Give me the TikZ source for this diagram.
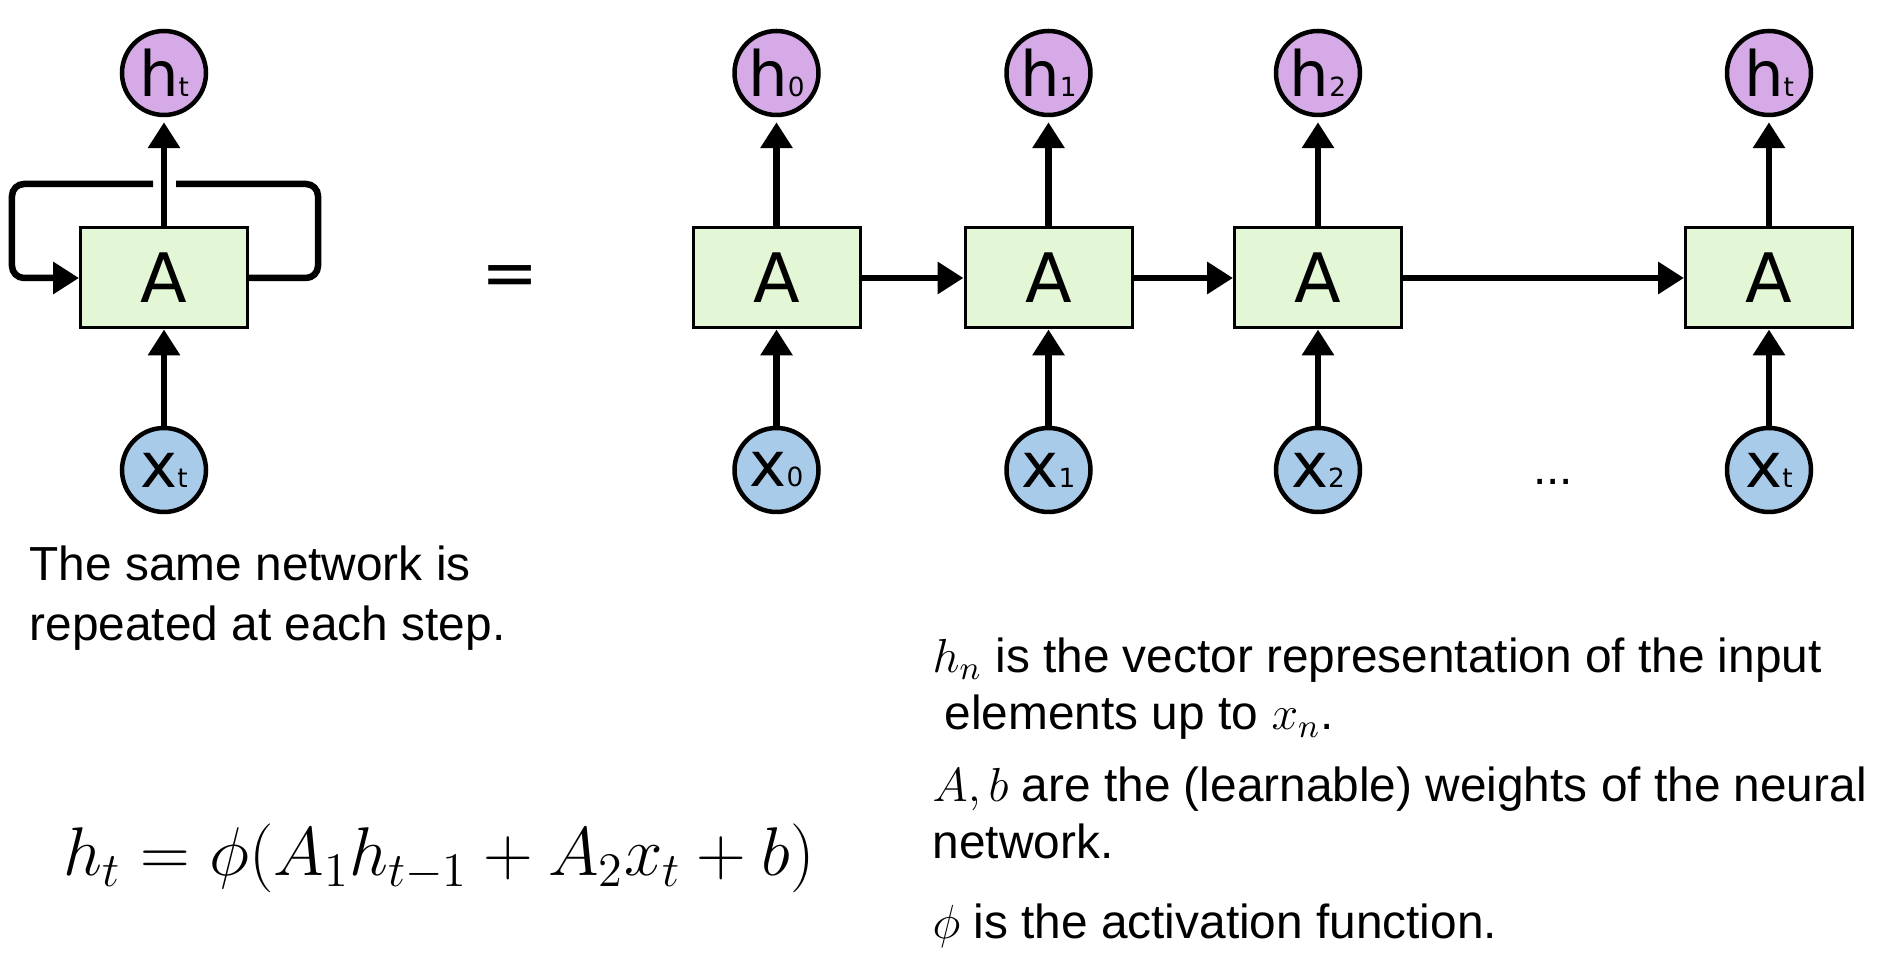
\RequirePackage{fix-cm}
\documentclass[tikz,border=0pt]{standalone}
\usepackage{fontspec}
\setmainfont{Liberation Sans}
\newfontfamily\cellfont{DejaVu Sans}
\usetikzlibrary{arrows.meta,positioning}

\definecolor{hidfill}{RGB}{213,170,230}
\definecolor{infill}{RGB}{168,203,233}
\definecolor{cellfill}{RGB}{227,246,213}

\newcommand{\lowidx}[1]{{\fontsize{7.5}{7.5}\selectfont #1}}

\tikzset{
  cell/.style={draw, line width=0.03cm, fill=cellfill, minimum width=1.67cm,
               minimum height=1.00cm, inner sep=0,
               font=\cellfont\fontsize{19.4}{20}\selectfont},
  hid/.style={circle, draw, line width=0.045cm, fill=hidfill, minimum size=0.84cm,
              inner sep=0, font=\cellfont\fontsize{17.8}{18}\selectfont},
  inp/.style={hid, fill=infill},
  flow/.style={-{Triangle[length=0.26cm,width=0.31cm]}, line width=0.065cm},
  note/.style={anchor=base west, align=left, inner sep=0},
}

\begin{document}
\begin{tikzpicture}
  \useasboundingbox (0,0) rectangle (18.98,-9.62);

  % Folded cell with its recurrent loop
  \node[hid] (hl) at (1.64,-0.73) {h\lowidx{t}};
  \node[cell] (Al) at (1.64,-2.78) {A};
  \node[inp] (xl) at (1.64,-4.70) {x\lowidx{t}};
  \draw[flow] (xl) -- (Al);
  \draw[flow, shorten >=0.05cm] (Al) -- (hl);
  \coordinate (gapR) at (1.76,-1.84);
  \coordinate (gapL) at (1.53,-1.84);
  \draw[line width=0.065cm, rounded corners=0.12cm] (Al.east) -| (3.18,-1.84) -- (gapR);
  \draw[flow, rounded corners=0.12cm] (gapL) -- (0.12,-1.84) |- (Al.west);

  \node[font=\cellfont\fontsize{19.4}{20}\selectfont] (eq) at (5.10,-2.81) {=};

  % Unrolled chain
  \node[hid] (h0) at (7.765,-0.73) {h\lowidx{0}};
  \node[cell] (A0) at (7.765,-2.78) {A};
  \node[inp] (x0) at (7.765,-4.70) {x\lowidx{0}};

  \node[hid] (h1) at (10.485,-0.73) {h\lowidx{1}};
  \node[cell] (A1) at (10.485,-2.78) {A};
  \node[inp] (x1) at (10.485,-4.70) {x\lowidx{1}};

  \node[hid] (h2) at (13.18,-0.73) {h\lowidx{2}};
  \node[cell] (A2) at (13.18,-2.78) {A};
  \node[inp] (x2) at (13.18,-4.70) {x\lowidx{2}};

  \node[hid] (ht) at (17.69,-0.73) {h\lowidx{t}};
  \node[cell] (At) at (17.69,-2.78) {A};
  \node[inp] (xt) at (17.69,-4.70) {x\lowidx{t}};

  \node[anchor=base, font=\fontsize{13.6}{14}\selectfont] (dots) at (15.53,-4.85) {...};

  \draw[flow] (x0) -- (A0);
  \draw[flow] (x1) -- (A1);
  \draw[flow] (x2) -- (A2);
  \draw[flow] (xt) -- (At);
  \draw[flow, shorten >=0.05cm] (A0) -- (h0);
  \draw[flow, shorten >=0.05cm] (A1) -- (h1);
  \draw[flow, shorten >=0.05cm] (A2) -- (h2);
  \draw[flow, shorten >=0.05cm] (At) -- (ht);
  \draw[flow] (A0) -- (A1);
  \draw[flow] (A1) -- (A2);
  \draw[flow] (A2) -- (At);

  % Caption and recurrence
  \node[note, font=\fontsize{13.6}{17.1}\selectfont] (same) at (0.29,-6.41)
       {The same network is\\repeated at each step.};
  \node[anchor=base west, inner sep=0, font=\fontsize{19.6}{20}\selectfont] (rule) at (0.63,-8.76)
       {$h_t = \phi(A_1 h_{t-1} + A_2 x_t + b)$};

  % Notation
  \node[note, font=\fontsize{13.6}{16.5}\selectfont] (defh) at (9.32,-7.30)
       {$h_n$ is the vector representation of the input\\\hspace*{0.12cm}elements up to $x_n$.};
  \node[note, font=\fontsize{13.6}{16.5}\selectfont] (defA) at (9.32,-8.59)
       {$A, b$ are the (learnable) weights of the neural\\network.};
  \node[note, font=\fontsize{13.6}{16.5}\selectfont] (defphi) at (9.32,-9.39)
       {$\phi$ is the activation function.};
\end{tikzpicture}
\end{document}
